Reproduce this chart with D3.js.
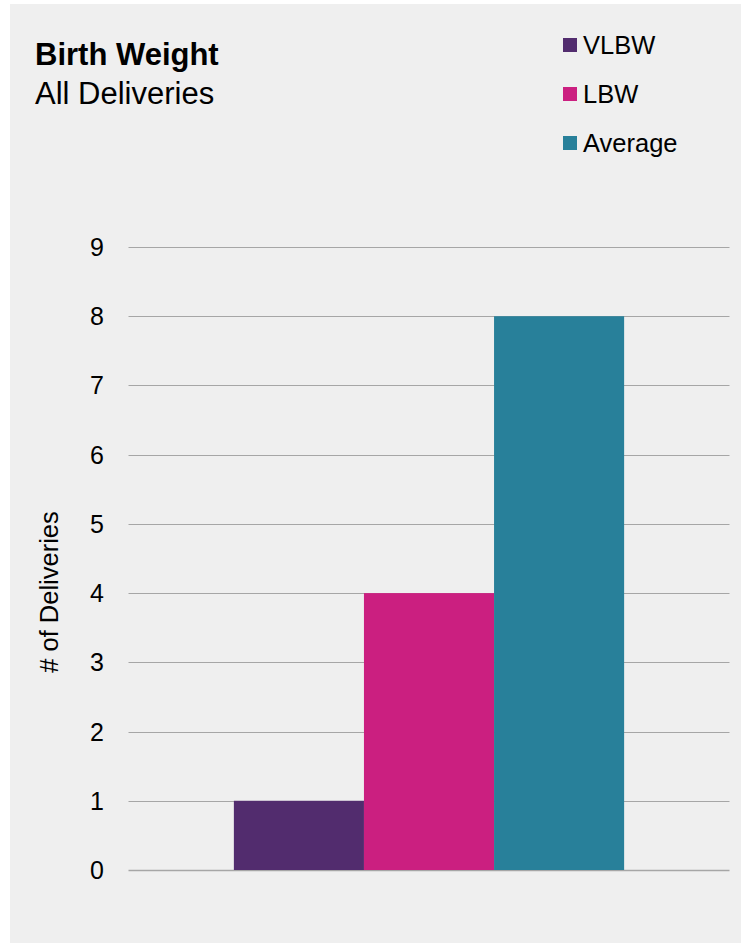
<!DOCTYPE html>
<html><head><meta charset="utf-8">
<script src="https://cdn.jsdelivr.net/npm/d3@7"></script>
<style>body{margin:0;background:#fff;}svg{display:block;font-family:"Liberation Sans",Arial,sans-serif;}</style>
</head><body>
<script>
const categories = ["All Deliveries"];
const seriesNames = ["VLBW", "LBW", "Average"];
const seriesValues = [1, 4, 8];
const seriesColors = ["#522c6e", "#cb1f80", "#28809a"];
const yTicks = [0,1,2,3,4,5,6,7,8,9];

const W = 741, H = 943;
const svg = d3.select("body").append("svg").attr("width", W).attr("height", H);
svg.append("rect").attr("x", 10).attr("y", 4).attr("width", W - 10).attr("height", H - 4).attr("fill", "#efefef");

const x0 = d3.scaleBand().domain(categories).range([128.5, 729.5]).paddingInner(0).paddingOuter(0.27);
const x1 = d3.scaleBand().domain(seriesNames).range([0, x0.bandwidth()]).padding(0);
const y = d3.scaleLinear().domain([0, 9]).range([870, 247]);

// gridlines
svg.append("g").selectAll("line").data(yTicks).join("line")
  .attr("x1", 128.5).attr("x2", 729.5)
  .attr("y1", d => Math.round(y(d)) + 0.5).attr("y2", d => Math.round(y(d)) + 0.5)
  .attr("stroke", "#a6a6a6").attr("stroke-width", d => d === 0 ? 1.5 : 1);

// tick labels
svg.append("g").selectAll("text").data(yTicks).join("text")
  .attr("x", 104).attr("y", d => y(d)).attr("dy", "0.36em")
  .attr("text-anchor", "end").attr("font-size", 25).attr("fill", "#000").text(d => d);

// bars
const g = svg.append("g").selectAll("g").data(categories).join("g")
  .attr("transform", d => `translate(${x0(d)},0)`);
g.selectAll("rect").data(seriesNames.map((n, i) => ({n, v: seriesValues[i], c: seriesColors[i]}))).join("rect")
  .attr("x", d => x1(d.n)).attr("width", x1.bandwidth())
  .attr("y", d => y(d.v)).attr("height", d => y(0) - y(d.v))
  .attr("fill", d => d.c);

// y axis title
svg.append("text").attr("transform", "translate(58,592) rotate(-90)")
  .attr("text-anchor", "middle").attr("font-size", 25.5).attr("fill", "#000").text("# of Deliveries");

// titles
svg.append("text").attr("x", 35).attr("y", 65).attr("font-size", 31).attr("font-weight", "bold").attr("fill", "#000").text("Birth Weight");
svg.append("text").attr("x", 35).attr("y", 104).attr("font-size", 31).attr("fill", "#000").text("All Deliveries");

// legend
const lg = svg.append("g").selectAll("g").data(seriesNames).join("g")
  .attr("transform", (d, i) => `translate(563,${45 + i * 49})`);
lg.append("rect").attr("x", 0).attr("y", -7).attr("width", 14).attr("height", 14).attr("fill", (d, i) => seriesColors[i]);
lg.append("text").attr("x", 20).attr("y", 0).attr("dy", "0.36em").attr("font-size", 25.5).attr("fill", "#000").text(d => d);
</script>
</body></html>
